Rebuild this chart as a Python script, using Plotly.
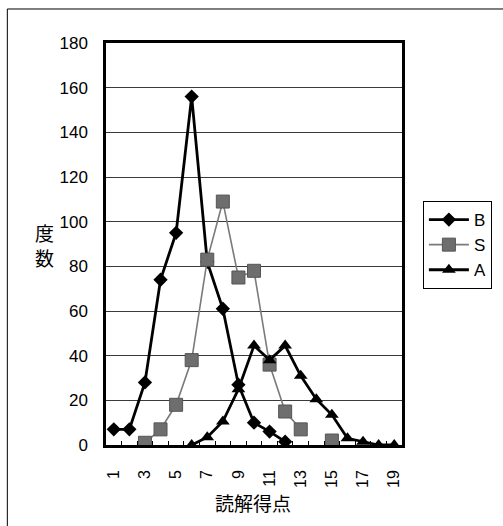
import plotly.graph_objects as go

scores = list(range(1, 20))
B = [7, 7, 28, 74, 95, 156, 82, 61, 27, 10, 6, 1.5, None, None, None, None, None, None, None]
S = [None, None, 1, 7, 18, 38, 83, 109, 75, 78, 36, 15, 7, None, 2, None, None, None, None]
A = [None, None, None, None, None, 0, 3.5, 10.5, 25, 44.5, 38, 44.5, 31, 20.5, 13.5, 3, 1.5, 0, 0]
x_tick_labels = [str(v) for v in range(1, 20, 2)]
y_ticks = list(range(0, 181, 20))

FONT = "Liberation Sans, Arial, sans-serif"
CJK = "Noto Sans CJK JP, sans-serif"

fig = go.Figure()
fig.add_trace(go.Scatter(x=scores, y=B, name="B", mode="lines+markers",
                         line=dict(color="black", width=2.8),
                         marker=dict(symbol="diamond", size=11, color="black"),
                         legendgroup="b"))
fig.add_trace(go.Scatter(x=scores, y=S, name="S", mode="lines+markers",
                         line=dict(color="#7a7a7a", width=1.6),
                         marker=dict(symbol="square", size=13, color="#6e6e6e",
                                     line=dict(color="#555555", width=1)),
                         connectgaps=False, legendgroup="s"))
fig.add_trace(go.Scatter(x=scores, y=A, name="A", mode="lines+markers",
                         line=dict(color="black", width=2.8),
                         marker=dict(symbol="triangle-up", size=12, color="black"),
                         legendgroup="a"))

fig.update_layout(
    width=503, height=526,
    margin=dict(l=106, r=100, t=43, b=81),
    paper_bgcolor="white", plot_bgcolor="white",
    font=dict(family=FONT, color="black", size=16),
    showlegend=True,
    legend=dict(x=1.067, y=0.607, xanchor="left", yanchor="top",
                bordercolor="black", borderwidth=1, bgcolor="white",
                font=dict(size=17, family=FONT),
                traceorder="grouped", tracegroupgap=0,
                itemwidth=40),
    xaxis=dict(range=[0.5, 19.5], tickmode="array",
               tickvals=[int(t) for t in x_tick_labels], ticktext=x_tick_labels,
               tickangle=-90, ticks="", ticklabelstandoff=16,
               tickfont=dict(size=16),
               showline=True, linecolor="black", linewidth=2.5, mirror=True,
               showgrid=False, zeroline=False,
               minor=dict(tickvals=[i + 0.5 for i in range(1, 19)], ticks="inside",
                          ticklen=4, tickcolor="black", tickwidth=1, showgrid=False)),
    yaxis=dict(range=[0, 180], tickmode="array", tickvals=y_ticks,
               ticks="outside", ticklen=12, tickcolor="rgba(0,0,0,0)",
               tickfont=dict(size=17),
               showline=True, linecolor="black", linewidth=2.5, mirror=True,
               showgrid=True, gridcolor="#3a3a3a", gridwidth=1, zeroline=False),
)

fig.add_annotation(text="度<br>数", xref="paper", yref="paper",
                   x=-0.245, y=0.4975, showarrow=False,
                   font=dict(family=CJK, size=19, color="black"))
fig.add_annotation(text="読解得点", xref="paper", yref="paper",
                   x=0.495, y=-0.142, showarrow=False, yanchor="middle",
                   font=dict(family=CJK, size=19, color="black"))

# outer frame
fig.add_shape(type="rect", xref="paper", yref="paper",
              x0=-0.3333, x1=1.6, y0=-0.4, y1=1.0846,
              line=dict(color="black", width=1), layer="below")

fig.write_html("out.html")
